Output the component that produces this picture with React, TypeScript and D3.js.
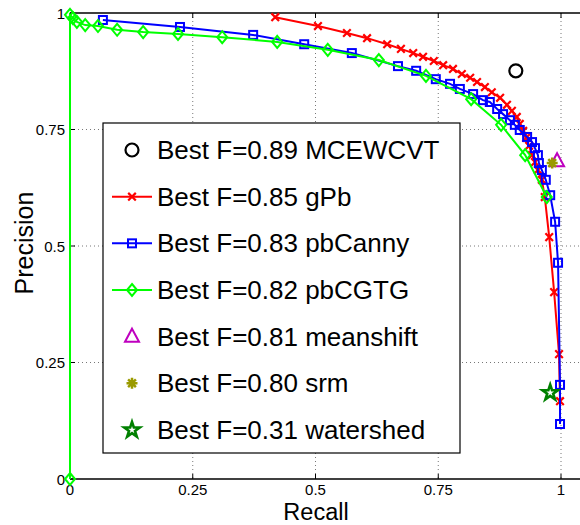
import React from "react";
import * as d3 from "d3";

const gpbRecall = [0.418,0.505,0.564,0.605,0.646,0.674,0.699,0.719,0.741,0.760,0.780,0.798,0.815,0.829,0.845,0.859,0.876,0.890,0.900,0.910,0.916,0.923,0.929,0.935,0.941,0.947,0.953,0.961,0.967,0.976,0.986,0.996,0.998];
const gpbPrecision = [0.991,0.972,0.957,0.946,0.933,0.923,0.914,0.906,0.897,0.888,0.880,0.869,0.861,0.852,0.841,0.830,0.818,0.803,0.790,0.777,0.762,0.747,0.732,0.715,0.695,0.680,0.663,0.642,0.605,0.519,0.401,0.268,0.167];

const cannyRecall = [0.067,0.224,0.373,0.477,0.574,0.668,0.705,0.745,0.774,0.794,0.821,0.841,0.855,0.870,0.882,0.896,0.906,0.916,0.931,0.941,0.947,0.953,0.955,0.961,0.969,0.978,0.988,0.994,0.998,0.998];
const cannyPrecision = [0.985,0.970,0.953,0.933,0.914,0.886,0.876,0.858,0.848,0.837,0.826,0.813,0.809,0.794,0.783,0.770,0.760,0.749,0.734,0.723,0.710,0.695,0.678,0.663,0.642,0.609,0.552,0.464,0.202,0.118];

const cgtgRecall = [0,0,0.006,0.014,0.031,0.057,0.096,0.149,0.220,0.310,0.422,0.525,0.629,0.725,0.817,0.878,0.927,0.971];
const cgtgPrecision = [0,0.996,0.989,0.981,0.974,0.972,0.964,0.959,0.955,0.948,0.938,0.921,0.899,0.865,0.815,0.760,0.695,0.605];

const singleNames = ["MCEWCVT","meanshift","srm","watershed"];
const singleRecall = [0.908,0.992,0.982,0.978];
const singlePrecision = [0.876,0.682,0.678,0.185];

const legendLabels = [
  "Best F=0.89 MCEWCVT",
  "Best F=0.85 gPb",
  "Best F=0.83 pbCanny",
  "Best F=0.82 pbCGTG",
  "Best F=0.81 meanshift",
  "Best F=0.80 srm",
  "Best F=0.31 watershed",
];
const xTicks = [0,0.25,0.5,0.75,1];
const yTicks = [0,0.25,0.5,0.75,1];
const tickLabels = ["0","0.25","0.5","0.75","1"];

const W = 580, H = 525;
const left = 70, top = 13, bottom = 479;
const x = d3.scaleLinear().domain([0,1]).range([left,561]);
const y = d3.scaleLinear().domain([0,1]).range([bottom,top]);
const rightEdge = 620;

const FONT = "'Liberation Sans', Arial, Helvetica, sans-serif";

type Kind = "circle"|"x"|"square"|"diamond"|"triangle"|"asterisk"|"star";

function Marker({kind, cx, cy, color}:{kind:Kind;cx:number;cy:number;color:string}) {
  const sw = 2;
  switch(kind){
    case "circle":
      return <circle cx={cx} cy={cy} r={6.5} fill="none" stroke={color} strokeWidth={2.2}/>;
    case "x": {
      const s = 3.8;
      return <path d={`M${cx-s},${cy-s}L${cx+s},${cy+s}M${cx-s},${cy+s}L${cx+s},${cy-s}`} stroke={color} strokeWidth={2.2} fill="none"/>;
    }
    case "square":
      return <rect x={cx-4} y={cy-4} width={8} height={8} fill="none" stroke={color} strokeWidth={sw}/>;
    case "diamond":
      return <path d={`M${cx},${cy-6}L${cx+5},${cy}L${cx},${cy+6}L${cx-5},${cy}Z`} fill="none" stroke={color} strokeWidth={sw}/>;
    case "triangle":
      return <path d={`M${cx},${cy-8}L${cx+7},${cy+5}L${cx-7},${cy+5}Z`} fill="none" stroke={color} strokeWidth={sw}/>;
    case "asterisk": {
      const s = 5.5;
      const d = [0,45,90,135].map(a=>{const r=a*Math.PI/180;return `M${cx-s*Math.cos(r)},${cy-s*Math.sin(r)}L${cx+s*Math.cos(r)},${cy+s*Math.sin(r)}`;}).join("");
      return <path d={d} stroke={color} strokeWidth={2.5} fill="none"/>;
    }
    case "star": {
      const p = d3.symbol().type(d3.symbolStar).size(75)() as string;
      return <path d={p} transform={`translate(${cx},${cy})`} fill="none" stroke={color} strokeWidth={2.6}/>;
    }
  }
  return null;
}

function Series({rx, py, color, kind}:{rx:number[];py:number[];color:string;kind:Kind}){
  const pts = rx.map((r,i)=>[x(r), y(py[i])] as [number,number]);
  const line = d3.line()(pts) as string;
  return <g>
    <path d={line} fill="none" stroke={color} strokeWidth={2}/>
    {pts.map((p,i)=><Marker key={i} kind={kind} cx={p[0]} cy={p[1]} color={color}/>)}
  </g>;
}

const singleKinds: Kind[] = ["circle","triangle","asterisk","star"];
const singleColors = ["#000000","#bf00bf","#9a9a00","#008000"];

const legendKinds: Kind[] = ["circle","x","square","diamond","triangle","asterisk","star"];
const legendColors = ["#000000","#ff0000","#0000ff","#00ff00","#bf00bf","#9a9a00","#008000"];
const legendHasLine = [false,true,true,true,false,false,false];

export default function App(){
  return (
    <div style={{position:"absolute",left:0,top:0}}>
      <svg width={W} height={H} style={{display:"block",background:"#fff"}} fontFamily={FONT}>
        <rect width={W} height={H} fill="#fff"/>
        {/* grid */}
        {xTicks.slice(1).map((t,i)=>
          <line key={"gx"+i} x1={x(t)} x2={x(t)} y1={top} y2={bottom} stroke="#777" strokeWidth={1} strokeDasharray="1,3"/>)}
        {yTicks.slice(1,4).map((t,i)=>
          <line key={"gy"+i} x1={left} x2={rightEdge} y1={y(t)} y2={y(t)} stroke="#777" strokeWidth={1} strokeDasharray="1,3"/>)}
        {/* axes */}
        <line x1={left} x2={rightEdge} y1={bottom} y2={bottom} stroke="#000" strokeWidth={1.5}/>
        <line x1={left} x2={rightEdge} y1={top} y2={top} stroke="#000" strokeWidth={1.5}/>
        <line x1={left} x2={left} y1={top} y2={bottom} stroke="#000" strokeWidth={1.5}/>
        {xTicks.map((t,i)=><g key={"xt"+i}>
          <line x1={x(t)} x2={x(t)} y1={bottom} y2={bottom-5} stroke="#000"/>
          <line x1={x(t)} x2={x(t)} y1={top} y2={top+5} stroke="#000"/>
          <text x={x(t)} y={494.5} fontSize={15} textAnchor="middle">{tickLabels[i]}</text>
        </g>)}
        {yTicks.map((t,i)=><g key={"yt"+i}>
          <line x1={left} x2={left+5} y1={y(t)} y2={y(t)} stroke="#000"/>
          <text x={65} y={y(t)+5.5} fontSize={15} textAnchor="end">{tickLabels[i]}</text>
        </g>)}
        <text x={316} y={519.5} fontSize={23.5} textAnchor="middle">Recall</text>
        <text transform={`translate(33,243) rotate(-90)`} fontSize={25} textAnchor="middle">Precision</text>

        {/* series */}
        <Series rx={gpbRecall} py={gpbPrecision} color="#ff0000" kind="x"/>
        <Series rx={cannyRecall} py={cannyPrecision} color="#0000ff" kind="square"/>
        <Series rx={cgtgRecall} py={cgtgPrecision} color="#00ff00" kind="diamond"/>
        {singleNames.map((n,i)=><Marker key={n} kind={singleKinds[i]} cx={x(singleRecall[i])} cy={y(singlePrecision[i])} color={singleColors[i]}/>)}

        {/* legend */}
        <rect x={103} y={123} width={357} height={330} fill="#fff" stroke="#000" strokeWidth={1.2}/>
        {legendLabels.map((l,i)=>{
          const cy = 150 + i*46.67;
          return <g key={l}>
            {legendHasLine[i] && <line x1={112} x2={152} y1={cy} y2={cy} stroke={legendColors[i]} strokeWidth={2}/>}
            <Marker kind={legendKinds[i]} cx={132} cy={cy} color={legendColors[i]}/>
            <text x={157} y={cy+9} fontSize={26}>{l}</text>
          </g>;
        })}
      </svg>
    </div>
  );
}
